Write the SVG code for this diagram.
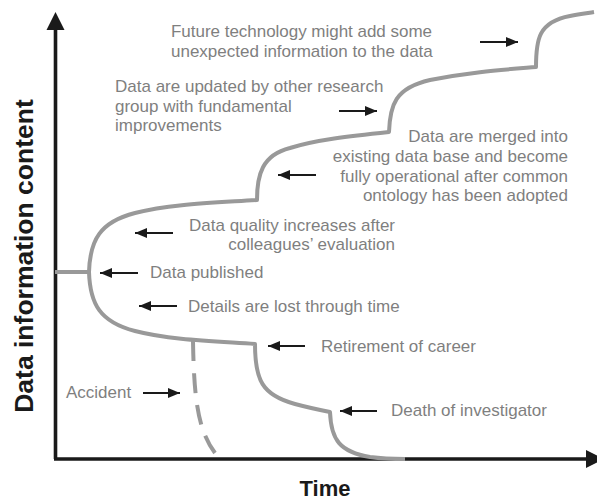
<svg xmlns="http://www.w3.org/2000/svg" width="597" height="501" viewBox="0 0 597 501">
<style>
.lbl{font-family:"Liberation Sans",Arial,sans-serif;font-size:17px;fill:#7f7f7f}
.ax{font-family:"Liberation Sans",Arial,sans-serif;font-weight:bold;fill:#1a1a1a}
.curve{fill:none;stroke:#999;stroke-width:4;stroke-linejoin:round}
.arr{stroke:#1a1a1a;stroke-width:2.2;fill:none;marker-end:url(#ah)}
</style>
<defs>
<marker id="ah" markerUnits="userSpaceOnUse" markerWidth="14" markerHeight="12" refX="12" refY="5" orient="auto">
<path d="M0,0 L12,5 L0,10 Z" fill="#1a1a1a"/>
</marker>
</defs>
<rect width="597" height="501" fill="#fff"/>
<g id="axes">
<path d="M55.5,459 V26 M54,459 H588" stroke="#1a1a1a" stroke-width="3.6" fill="none"/>
<path d="M55.5,12 L64.5,30 L46.5,30 Z" fill="#1a1a1a"/>
<path d="M604,459 L586,450 L586,468 Z" fill="#1a1a1a"/>
<text class="ax" font-size="22" x="325" y="496" text-anchor="middle">Time</text>
<text class="ax" font-size="26.5" transform="translate(33,256) rotate(-90)" text-anchor="middle">Data information content</text>
</g>
<g id="curves">
<path class="curve" d="M55,272 H89 C90,240 100,222 135,213 S210,203 257,200 C257,175 262,155 290,148 C315,140 350,136 389,132 C390,105 395,88 430,80 C470,72 500,70 536,67 C536,40 538,22 570,16 C580,14 588,13 594,12"/>
<path class="curve" d="M89,272 C90,304 100,322 135,331 S210,341 255,344 C255,380 262,395 295,404 C310,408 320,410 330,412 C331,440 340,452 370,457 C385,459 395,459 405,459"/>
<path class="curve" d="M193,341 C194,400 198,430 215,453" stroke-dasharray="20 12"/>
</g>
<g id="connectors">
<line class="arr" x1="480" y1="42" x2="518" y2="42"/>
<line class="arr" x1="339" y1="111" x2="377" y2="111"/>
<line class="arr" x1="316" y1="175" x2="278" y2="175"/>
<line class="arr" x1="173" y1="233" x2="135" y2="233"/>
<line class="arr" x1="138" y1="273" x2="100" y2="273"/>
<line class="arr" x1="177" y1="306" x2="139" y2="306"/>
<line class="arr" x1="305" y1="346" x2="268" y2="346"/>
<line class="arr" x1="143" y1="393" x2="180" y2="393"/>
<line class="arr" x1="377" y1="411" x2="340" y2="411"/>
</g>
<g id="label-future">
<text class="lbl" x="171" y="37" textLength="261" lengthAdjust="spacing">Future technology might add some</text>
<text class="lbl" x="171" y="57">unexpected information to the data</text>
</g>
<g id="label-updated">
<text class="lbl" x="115" y="92">Data are updated by other research</text>
<text class="lbl" x="115" y="111.5">group with fundamental</text>
<text class="lbl" x="115" y="131">improvements</text>
</g>
<g id="label-merged">
<text class="lbl" x="568" y="142" text-anchor="end">Data are merged into</text>
<text class="lbl" x="568" y="162" text-anchor="end">existing data base and become</text>
<text class="lbl" x="568" y="181.5" text-anchor="end">fully operational after common</text>
<text class="lbl" x="568" y="201" text-anchor="end">ontology has been adopted</text>
</g>
<g id="label-quality">
<text class="lbl" x="395" y="231" text-anchor="end">Data quality increases after</text>
<text class="lbl" x="395" y="250" text-anchor="end">colleagues’ evaluation</text>
</g>
<g id="label-published"><text class="lbl" x="150" y="278">Data published</text></g>
<g id="label-details"><text class="lbl" x="188" y="312">Details are lost through time</text></g>
<g id="label-retirement"><text class="lbl" x="321" y="351.5">Retirement of career</text></g>
<g id="label-accident"><text class="lbl" x="66" y="397.5">Accident</text></g>
<g id="label-death"><text class="lbl" x="391" y="416">Death of investigator</text></g>
</svg>
